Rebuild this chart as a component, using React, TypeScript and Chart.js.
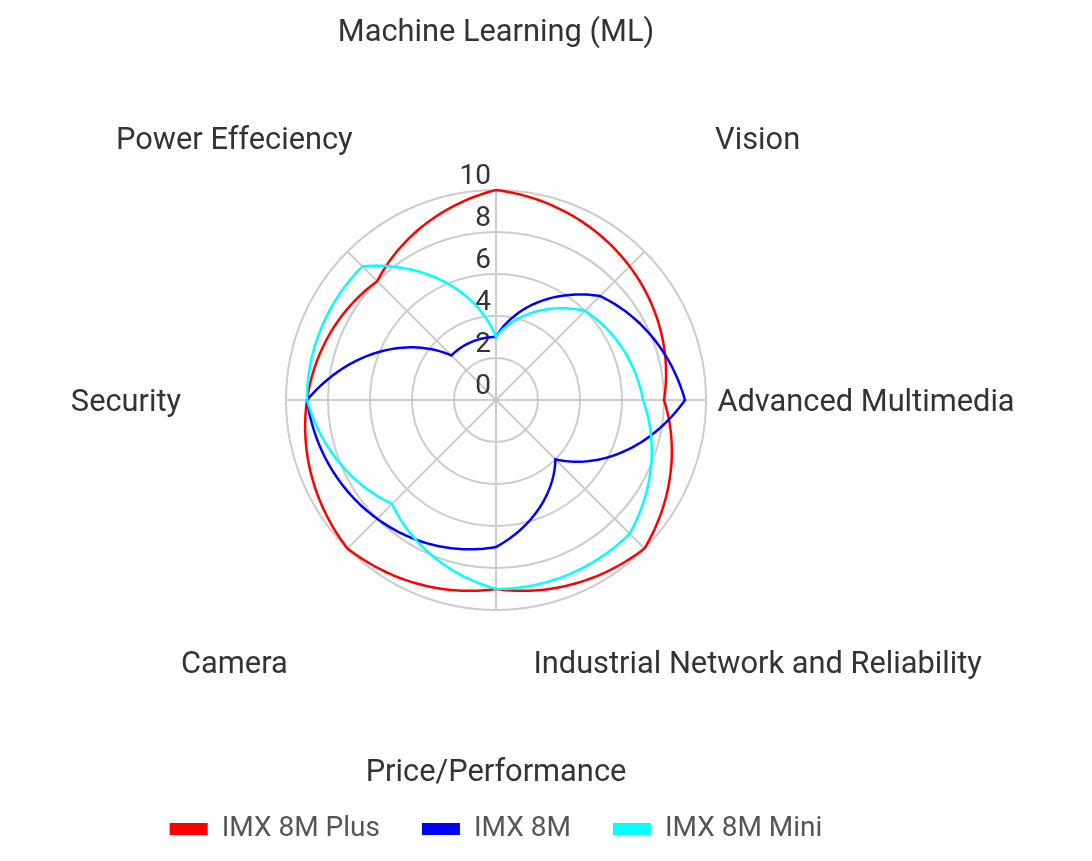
import React, { useEffect, useRef } from 'react';
import { Chart, registerables } from 'chart.js';

Chart.register(...registerables);

// ---- data ----
const CATEGORIES = [
  'Machine Learning (ML)',
  'Vision',
  'Advanced Multimedia',
  'Industrial Network and Reliability',
  'Price/Performance',
  'Camera',
  'Security',
  'Power Effeciency',
];
const SERIES_NAMES = ['IMX 8M Plus', 'IMX 8M', 'IMX 8M Mini'];
const IMX8M_PLUS = [10, 9, 8, 10, 9, 10, 9, 8];
const IMX8M = [3, 7, 9, 4, 7, 8, 9, 3];
const IMX8M_MINI = [3, 6, 7, 9, 9, 7, 9, 9];
const TICK_VALUES = [0, 2, 4, 6, 8, 10];
const TICK_LABELS = ['0', '2', '4', '6', '8', '10'];

// ---- styles / layout ----
const COLORS = ['#ff0000', '#0000ff', '#00ffff'];
const FONT = 'Roboto';
const RADIUS = 210;
const LABEL_RADIUS = 370;
const LINE_WIDTH = 2.5;
const STEPS = 40;

const overlay = {
  id: 'radarOverlay',
  beforeDatasetsDraw(chart: any) {
    const s = chart.scales.r;
    const ctx = chart.ctx;
    ctx.save();
    ctx.fillStyle = '#333333';
    ctx.font = `28px ${FONT}`;
    ctx.textAlign = 'right';
    ctx.textBaseline = 'alphabetic';
    TICK_VALUES.forEach((v, i) => {
      const d = s.getDistanceFromCenterForValue(v);
      ctx.fillText(TICK_LABELS[i], s.xCenter - 5, s.yCenter - d - 6);
    });
    const fs = 30.8;
    ctx.font = `${fs}px ${FONT}`;
    ctx.textAlign = 'center';
    CATEGORIES.forEach((c, i) => {
      const p = s.getPointPosition(i, LABEL_RADIUS);
      ctx.fillText(c, p.x, p.y + fs * 0.355);
    });
    ctx.restore();
  },
  afterDatasetsDraw(chart: any) {
    const s = chart.scales.r;
    const ctx = chart.ctx;
    chart.data.datasets.forEach((ds: any, di: number) => {
      if (!chart.isDatasetVisible(di)) return;
      const vals = ds.data as number[];
      const n = vals.length;
      ctx.save();
      ctx.strokeStyle = ds.borderColor;
      ctx.lineWidth = LINE_WIDTH;
      ctx.beginPath();
      for (let i = 0; i < n; i++) {
        const a = vals[i];
        const b = vals[(i + 1) % n];
        for (let k = 0; k <= STEPS; k++) {
          if (i > 0 && k === 0) continue;
          const t = k / STEPS;
          const p = s.getPointPositionForValue(i + t, a + (b - a) * t);
          if (i === 0 && k === 0) ctx.moveTo(p.x, p.y);
          else ctx.lineTo(p.x, p.y);
        }
      }
      ctx.closePath();
      ctx.stroke();
      ctx.restore();
    });
  },
};

export default function App() {
  const ref = useRef<HTMLCanvasElement | null>(null);
  useEffect(() => {
    if (!ref.current) return;
    const series = [IMX8M_PLUS, IMX8M, IMX8M_MINI];
    const chart = new Chart(ref.current, {
      type: 'radar',
      data: {
        labels: CATEGORIES,
        datasets: series.map((d, i) => ({
          label: SERIES_NAMES[i],
          data: d,
          borderColor: COLORS[i],
          backgroundColor: COLORS[i],
          borderWidth: 0,
          pointRadius: 0,
          pointHoverRadius: 0,
          showLine: false,
          fill: false,
        })),
      },
      options: {
        responsive: false,
        animation: false,
        layout: { padding: { top: 19, right: 100 } },
        plugins: {
          tooltip: { enabled: false },
          legend: {
            position: 'bottom',
            labels: {
              boxWidth: 38,
              boxHeight: 12,
              padding: 42,
              color: '#555555',
              font: { size: 28, family: FONT },
            },
          },
        },
        scales: {
          r: {
            min: 0,
            max: 10,
            ticks: { stepSize: 2, display: false },
            grid: { circular: true, color: '#cccccc', lineWidth: 2 },
            angleLines: { color: '#cccccc', lineWidth: 2 },
            pointLabels: { display: false },
            afterFit: (sc: any) => {
              sc.drawingArea = RADIUS;
            },
          },
        },
      } as any,
      plugins: [overlay],
    });
    return () => chart.destroy();
  }, []);
  return (
    <div style={{ width: 1076, height: 845 }}>
      <canvas ref={ref} width={1076} height={845} />
    </div>
  );
}
